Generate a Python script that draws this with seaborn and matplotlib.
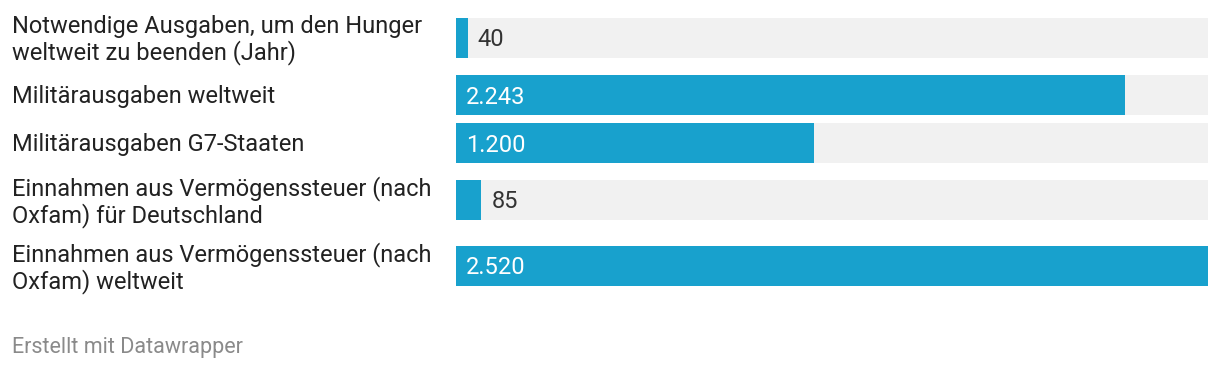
import numpy as np
import pandas as pd
import seaborn as sns
import matplotlib.pyplot as plt
import matplotlib.transforms as mtransforms

# data (Mrd. US-Dollar)
labels = [
    "Notwendige Ausgaben, um den Hunger\nweltweit zu beenden (Jahr)",
    "Militärausgaben weltweit",
    "Militärausgaben G7-Staaten",
    "Einnahmen aus Vermögenssteuer (nach\nOxfam) für Deutschland",
    "Einnahmen aus Vermögenssteuer (nach\nOxfam) weltweit",
]
values = [40, 2243, 1200, 85, 2520]
value_labels = ["40", "2.243", "1.200", "85", "2.520"]

blue = "#18a1cd"
grey = "#f1f1f1"
text_col = "#222222"

sns.set_style("white")
plt.rcParams["font.family"] = ["Roboto", "DejaVu Sans"]

# row layout in pixels: one-line rows are 40 px, two-line rows 58 px, gap 8
row_h = [58 if "\n" in l else 40 for l in labels]
pos = []
top = 9
for h in row_h:
    pos.append(top + h / 2)
    top += h + 8

df = pd.DataFrame({"label": labels, "value": values, "pos": pos,
                   "full": max(values)})

fig = plt.figure(figsize=(12.2, 3.72), dpi=100)
ax = fig.add_axes([456 / 1220, 72 / 372, 752 / 1220, 300 / 372])

bw = 40 / 48  # bar height relative to smallest row spacing
sns.barplot(data=df, x="full", y="pos", orient="y", native_scale=True,
            color=grey, width=bw, saturation=1, linewidth=0, ax=ax)
sns.barplot(data=df, x="value", y="pos", orient="y", native_scale=True,
            color=blue, width=bw, saturation=1, linewidth=0, ax=ax)

ax.set_xlim(0, max(values))
ax.set_ylim(300, 0)
ax.axis("off")

# value labels: inside (white) for long bars, outside (dark) for short ones
px = max(values) / 752
dy = 2  # small nudge down so text sits optically centred
for v, lab, p in zip(values, value_labels, pos):
    if v / px > 60:
        ax.text(10 * px, p + dy, lab, color="white", fontsize=17, va="center", ha="left")
    else:
        ax.text(v + 10 * px, p + dy, lab, color="#333333", fontsize=17, va="center", ha="left")

# category labels on the left
trans = mtransforms.blended_transform_factory(fig.transFigure, ax.transData)
for lab, p in zip(labels, pos):
    fig.text(12 / 1220, p + dy, lab, transform=trans, color=text_col, fontsize=17,
             va="center", ha="left", linespacing=1.12)

fig.text(12 / 1220, 1 - 347 / 372, "Erstellt mit Datawrapper", color="#8a8a8a",
         fontsize=15.5, va="center", ha="left")

fig.savefig("out.png", dpi=100, facecolor="white")
